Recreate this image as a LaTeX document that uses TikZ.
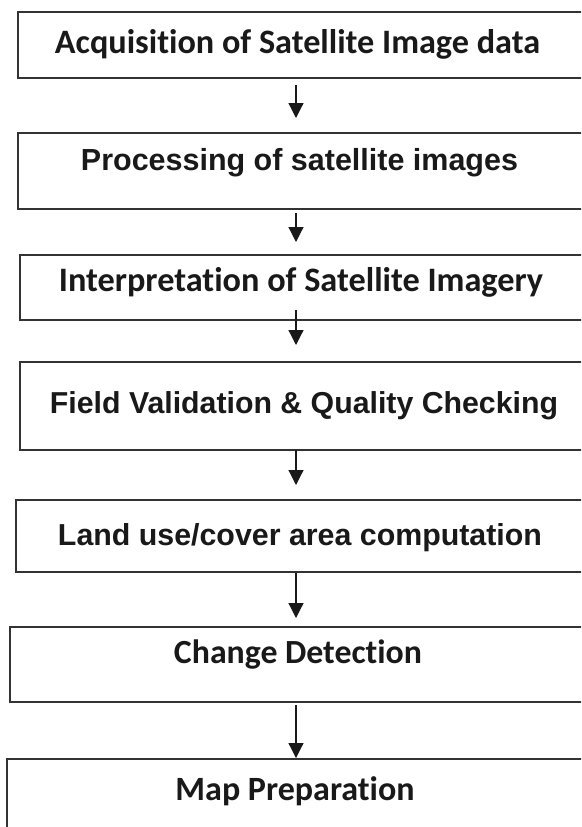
\documentclass[tikz,border=0pt]{standalone}
\usepackage{fontspec}
\usepackage{graphicx}
\newfontfamily\calfont{Carlito}[Ligatures={NoCommon,NoContextual}]
\newfontfamily\arifont{Liberation Sans}
\usetikzlibrary{arrows.meta}
\tikzset{
  box/.style={draw=black!80, line width=1.3pt, fill=white, anchor=north west, inner sep=0pt, outer sep=0pt},
  lbl/.style={anchor=base, inner sep=0pt, text=black!90},
  arr/.style={draw=black!90, line width=1.2pt, -{Triangle[length=15pt,width=15pt]}}
}
\newcommand{\calt}[2]{\resizebox{#1pt}{!}{\calfont\bfseries #2}}
\newcommand{\arit}[2]{\resizebox{#1pt}{!}{\arifont\bfseries #2}}
\begin{document}
\begin{tikzpicture}[x=1pt,y=1pt]
\useasboundingbox (0,0) rectangle (581,-827);
\clip (0,0) rectangle (581,-827);
\fill[white] (0,0) rectangle (581,-827);
% boxes
\node[box, minimum width=580pt, minimum height=66pt] (b1) at (18,-12) {};
\node[box, minimum width=580pt, minimum height=76pt] (b2) at (18,-133) {};
\node[box, minimum width=580pt, minimum height=65pt] (b3) at (20,-255) {};
\node[box, minimum width=580pt, minimum height=88pt] (b4) at (20,-362) {};
\node[box, minimum width=580pt, minimum height=72pt] (b5) at (16,-500) {};
\node[box, minimum width=590pt, minimum height=75pt] (b6) at (10,-627) {};
\node[box, minimum width=590pt, minimum height=90pt] (b7) at (7,-759) {};
% texts
\node[lbl] (t1) at (297.5,-53) {\calt{485}{Acquisition of Satellite Image data}};
\node[lbl] (t2) at (299.5,-170) {\arit{437}{Processing of satellite images}};
\node[lbl] (t3) at (301,-291) {\calt{484}{Interpretation of Satellite Imagery}};
\node[lbl] (t4) at (304,-413) {\arit{508}{Field Validation \& Quality Checking}};
\node[lbl] (t5) at (300,-545) {\arit{484}{Land use/cover area computation}};
\node[lbl] (t6) at (298,-663) {\calt{248}{Change Detection}};
\node[lbl] (t7) at (295,-800) {\calt{239}{Map Preparation}};
% arrows
\coordinate (a1s) at (296,-85);  \coordinate (a1e) at (296,-118);
\coordinate (a2s) at (296,-213); \coordinate (a2e) at (296,-242);
\coordinate (a3s) at (296,-310); \coordinate (a3e) at (296,-345);
\coordinate (a4s) at (296,-450); \coordinate (a4e) at (296,-485);
\coordinate (a5s) at (296,-573); \coordinate (a5e) at (296,-618);
\coordinate (a6s) at (296,-705); \coordinate (a6e) at (296,-758);
\draw[arr] (a1s) -- (a1e);
\draw[arr] (a2s) -- (a2e);
\draw[arr] (a3s) -- (a3e);
\draw[arr] (a4s) -- (a4e);
\draw[arr] (a5s) -- (a5e);
\draw[arr] (a6s) -- (a6e);
\end{tikzpicture}
\end{document}
